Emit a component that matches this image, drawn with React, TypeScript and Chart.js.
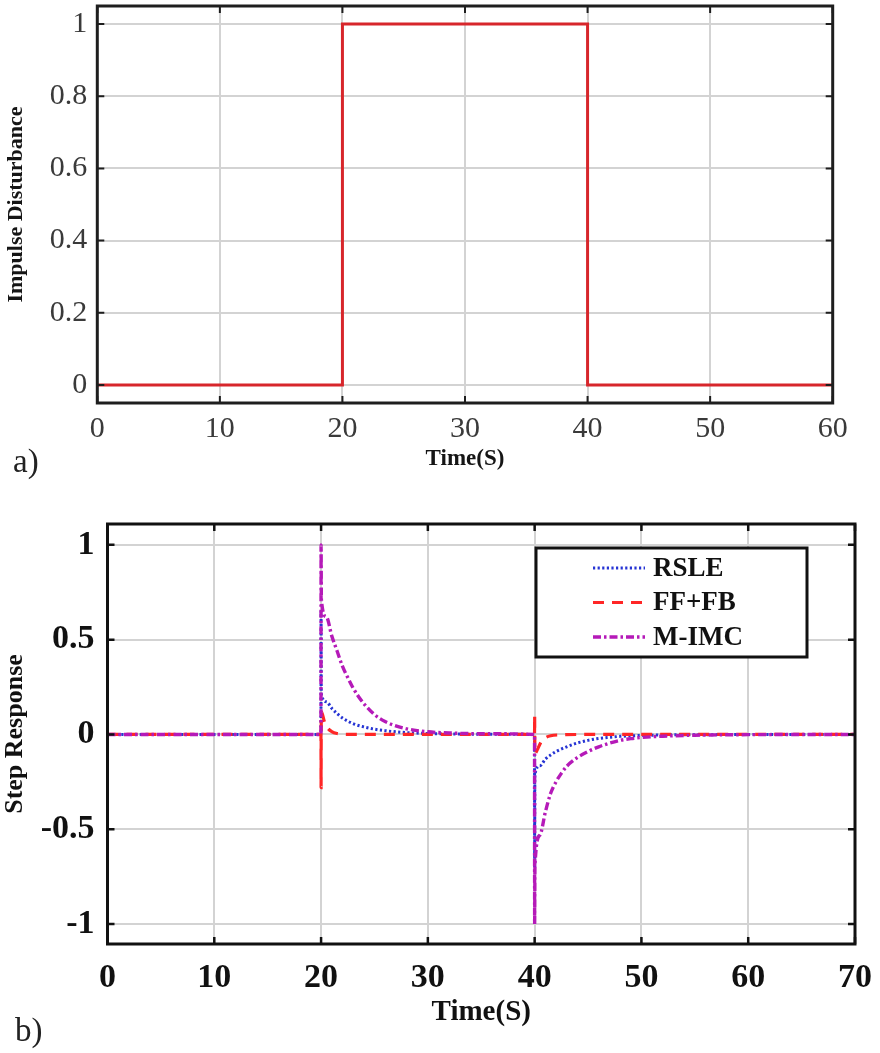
import React, { useEffect, useRef } from 'react';
import { Chart, registerables } from 'chart.js';

Chart.register(...registerables);

const SERIF = '"Liberation Serif", "Times New Roman", serif';

// ---------- (a) Impulse disturbance ----------
const TOP_TIME = [0, 20, 20, 40, 40, 60];
const TOP_DIST = [0, 0, 1, 1, 0, 0];
const TOP_X_TICKS = [0, 10, 20, 30, 40, 50, 60];
const TOP_X_LABELS = ['0', '10', '20', '30', '40', '50', '60'];
const TOP_Y_TICKS = [0, 0.2, 0.4, 0.6, 0.8, 1];
const TOP_Y_LABELS = ['0', '0.2', '0.4', '0.6', '0.8', '1'];

// ---------- (b) Step response ----------
const SERIES_NAMES = ['RSLE', 'FF+FB', 'M-IMC'];

const RSLE_T = [0, 19.99, 20, 20.02, 20.5, 21, 21.5, 22, 23, 24, 25, 26, 27, 28, 30, 33, 36, 39.99, 40, 40.02, 40.5, 41, 41.5, 42, 43, 44, 45, 46, 47, 48, 50, 53, 56, 70];
const RSLE_V = [0, 0, 0.65, 0.215, 0.172, 0.138, 0.11, 0.087, 0.057, 0.04, 0.028, 0.02, 0.014, 0.01, 0.005, 0.002, 0.001, 0, -0.7, -0.213, -0.165, -0.13, -0.108, -0.09, -0.065, -0.045, -0.031, -0.021, -0.015, -0.01, -0.005, -0.002, -0.001, 0];

const FF_T = [0, 19.99, 20, 20.02, 20.3, 20.6, 21, 21.5, 22.5, 39.99, 40, 40.02, 40.3, 40.6, 41, 41.5, 42.5, 44, 70];
const FF_V = [0, 0, -0.28, 0.12, 0.07, 0.035, 0.015, 0.005, 0, 0, 0.1, -0.1, -0.075, -0.04, -0.018, -0.007, -0.002, 0, 0];

const MIMC_T = [0, 19.99, 20, 20.03, 20.5, 21, 21.5, 22, 22.5, 23, 23.5, 24, 25, 26, 27, 28, 29, 30, 32, 35, 39.99, 40, 40.03, 40.5, 41, 41.5, 42, 42.5, 43, 44, 45, 46, 47, 48, 49, 50, 52, 55, 60, 70];
const MIMC_V = [0, 0, 1, 0.71, 0.62, 0.52, 0.44, 0.36, 0.3, 0.245, 0.2, 0.163, 0.105, 0.068, 0.045, 0.03, 0.02, 0.014, 0.008, 0.004, 0, -1, -0.69, -0.53, -0.41, -0.31, -0.25, -0.205, -0.168, -0.122, -0.09, -0.065, -0.046, -0.031, -0.022, -0.016, -0.009, -0.004, -0.001, 0];

const BOT_X_TICKS = [0, 10, 20, 30, 40, 50, 60, 70];
const BOT_X_LABELS = ['0', '10', '20', '30', '40', '50', '60', '70'];
const BOT_Y_TICKS = [-1, -0.5, 0, 0.5, 1];
const BOT_Y_LABELS = ['-1', '-0.5', '0', '0.5', '1'];

const toPoints = (t: number[], v: number[]) => t.map((x, i) => ({ x, y: v[i] }));

// MATLAB-like frame with inward tick marks
const matlabFrame = {
  id: 'matlabFrame',
  afterDatasetsDraw(chart: any, _args: any, opts: any) {
    const { ctx, chartArea: a, scales } = chart;
    ctx.save();
    ctx.strokeStyle = opts.color;
    ctx.lineWidth = opts.tickWidth;
    const L = opts.tickLength;
    ctx.beginPath();
    for (const t of scales.x.ticks) {
      const px = scales.x.getPixelForValue(t.value);
      ctx.moveTo(px, a.bottom);
      ctx.lineTo(px, a.bottom - L);
      ctx.moveTo(px, a.top);
      ctx.lineTo(px, a.top + L);
    }
    for (const t of scales.y.ticks) {
      const py = scales.y.getPixelForValue(t.value);
      ctx.moveTo(a.left, py);
      ctx.lineTo(a.left + L, py);
      ctx.moveTo(a.right, py);
      ctx.lineTo(a.right - L, py);
    }
    ctx.stroke();
    ctx.lineWidth = opts.width;
    ctx.strokeRect(a.left, a.top, a.right - a.left, a.bottom - a.top);
    ctx.restore();
  },
};

// Boxed legend inside the plot area
const boxLegend = {
  id: 'boxLegend',
  afterDraw(chart: any, _args: any, opts: any) {
    if (!opts || !opts.display) return;
    const { ctx, chartArea: a } = chart;
    const x0 = a.left + opts.left;
    const y0 = a.top + opts.top;
    ctx.save();
    ctx.fillStyle = '#ffffff';
    ctx.fillRect(x0, y0, opts.width, opts.height);
    ctx.strokeStyle = '#111';
    ctx.lineWidth = 3;
    ctx.strokeRect(x0, y0, opts.width, opts.height);
    const ds = chart.data.datasets;
    ds.forEach((d: any, i: number) => {
      const y = y0 + opts.firstRow + i * opts.rowGap;
      ctx.save();
      ctx.strokeStyle = d.borderColor;
      ctx.lineWidth = d.borderWidth;
      ctx.setLineDash(d.borderDash || []);
      ctx.beginPath();
      ctx.moveTo(x0 + opts.lineStart, y);
      ctx.lineTo(x0 + opts.lineEnd, y);
      ctx.stroke();
      ctx.restore();
      ctx.fillStyle = '#111';
      ctx.font = `bold ${opts.fontSize}px ${SERIF}`;
      ctx.textAlign = 'left';
      ctx.textBaseline = 'middle';
      ctx.fillText(d.label, x0 + opts.textStart, y + 1);
    });
    ctx.restore();
  },
};

function TopChart() {
  const ref = useRef<HTMLCanvasElement | null>(null);
  useEffect(() => {
    if (!ref.current) return;
    const chart = new Chart(ref.current, {
      type: 'line',
      data: {
        datasets: [
          {
            label: 'Impulse Disturbance',
            data: toPoints(TOP_TIME, TOP_DIST),
            borderColor: '#d7262b',
            borderWidth: 3,
            pointRadius: 0,
            tension: 0,
            fill: false,
          },
        ],
      },
      options: {
        responsive: false,
        animation: false,
        events: [],
        layout: { padding: { left: 3, top: 6, right: 47.3, bottom: 27.2 } },
        plugins: {
          legend: { display: false },
          tooltip: { enabled: false },
          matlabFrame: { color: '#1e1e1e', width: 3, tickWidth: 2, tickLength: 7 },
          boxLegend: { display: false },
        } as any,
        scales: {
          x: {
            type: 'linear',
            min: 0,
            max: 60,
            afterBuildTicks: (s: any) => {
              s.ticks = TOP_X_TICKS.map((v) => ({ value: v }));
            },
            afterFit: (s: any) => {
              s.height = 69.8;
              s.paddingLeft = 0;
              s.paddingRight = 0;
            },
            ticks: {
              autoSkip: false,
              maxRotation: 0,
              padding: 8,
              color: '#3a3a3a',
              font: { family: SERIF, size: 30 },
              callback: (_v: any, i: number) => TOP_X_LABELS[i],
            },
            grid: { color: '#d3d3d3', lineWidth: 2, drawTicks: false },
            border: { display: false },
            title: {
              display: true,
              text: 'Time(S)',
              color: '#151515',
              padding: 0,
              font: { family: SERIF, size: 23, weight: 'bold' },
            },
          },
          y: {
            type: 'linear',
            min: -0.05,
            max: 1.05,
            afterBuildTicks: (s: any) => {
              s.ticks = TOP_Y_TICKS.map((v) => ({ value: v }));
            },
            afterFit: (s: any) => {
              s.width = 94.3;
              s.paddingTop = 0;
              s.paddingBottom = 0;
            },
            ticks: {
              autoSkip: false,
              padding: 10,
              color: '#3a3a3a',
              font: { family: SERIF, size: 30 },
              callback: (_v: any, i: number) => TOP_Y_LABELS[i],
            },
            grid: { color: '#d3d3d3', lineWidth: 2, drawTicks: false },
            border: { display: false },
            title: {
              display: true,
              text: 'Impulse Disturbance',
              color: '#151515',
              padding: 0,
              font: { family: SERIF, size: 22, weight: 'bold' },
            },
          },
        },
      } as any,
      plugins: [matlabFrame, boxLegend],
    });
    return () => chart.destroy();
  }, []);
  return <canvas ref={ref} width={880} height={500} style={{ display: 'block' }} />;
}

function BottomChart() {
  const ref = useRef<HTMLCanvasElement | null>(null);
  useEffect(() => {
    if (!ref.current) return;
    const chart = new Chart(ref.current, {
      type: 'line',
      data: {
        datasets: [
          {
            label: SERIES_NAMES[0],
            data: toPoints(RSLE_T, RSLE_V),
            borderColor: '#2634d4',
            borderWidth: 3,
            borderDash: [2.2, 2.4],
            pointRadius: 0,
            cubicInterpolationMode: 'monotone',
            fill: false,
            order: 2,
          },
          {
            label: SERIES_NAMES[1],
            data: toPoints(FF_T, FF_V),
            borderColor: '#ff2626',
            borderWidth: 3.2,
            borderDash: [11, 8],
            pointRadius: 0,
            cubicInterpolationMode: 'monotone',
            fill: false,
            order: 1,
          },
          {
            label: SERIES_NAMES[2],
            data: toPoints(MIMC_T, MIMC_V),
            borderColor: '#b51ab8',
            borderWidth: 3.4,
            borderDash: [8, 3, 2.5, 3],
            pointRadius: 0,
            cubicInterpolationMode: 'monotone',
            fill: false,
            order: 0,
          },
        ],
      },
      options: {
        responsive: false,
        animation: false,
        events: [],
        layout: { padding: { left: 0, top: 24, right: 25, bottom: 22.6 } },
        plugins: {
          legend: { display: false },
          tooltip: { enabled: false },
          matlabFrame: { color: '#111', width: 3, tickWidth: 2.5, tickLength: 7 },
          boxLegend: {
            display: true,
            left: 428.5,
            top: 24,
            width: 271,
            height: 109,
            firstRow: 20,
            rowGap: 34.5,
            lineStart: 57,
            lineEnd: 109,
            textStart: 117,
            fontSize: 27,
          },
        } as any,
        scales: {
          x: {
            type: 'linear',
            min: 0,
            max: 70,
            afterBuildTicks: (s: any) => {
              s.ticks = BOT_X_TICKS.map((v) => ({ value: v }));
            },
            afterFit: (s: any) => {
              s.height = 86.4;
              s.paddingLeft = 0;
              s.paddingRight = 0;
            },
            ticks: {
              autoSkip: false,
              maxRotation: 0,
              padding: 14,
              color: '#111',
              font: { family: SERIF, size: 34, weight: 'bold' },
              callback: (_v: any, i: number) => BOT_X_LABELS[i],
            },
            grid: { color: '#d3d3d3', lineWidth: 2, drawTicks: false },
            border: { display: false },
            title: {
              display: true,
              text: 'Time(S)',
              color: '#111',
              padding: 0,
              font: { family: SERIF, size: 29, weight: 'bold' },
            },
          },
          y: {
            type: 'linear',
            min: -1.105,
            max: 1.11,
            afterBuildTicks: (s: any) => {
              s.ticks = BOT_Y_TICKS.map((v) => ({ value: v }));
            },
            afterFit: (s: any) => {
              s.width = 107.5;
              s.paddingTop = 0;
              s.paddingBottom = 0;
            },
            ticks: {
              autoSkip: false,
              padding: 13,
              color: '#111',
              font: { family: SERIF, size: 34, weight: 'bold' },
              callback: (_v: any, i: number) => BOT_Y_LABELS[i],
            },
            grid: { color: '#d3d3d3', lineWidth: 2, drawTicks: false },
            border: { display: false },
            title: {
              display: true,
              text: 'Step Response',
              color: '#111',
              padding: 0,
              font: { family: SERIF, size: 26, weight: 'bold' },
            },
          },
        },
      } as any,
      plugins: [matlabFrame, boxLegend],
    });
    return () => chart.destroy();
  }, []);
  return <canvas ref={ref} width={880} height={553} style={{ display: 'block' }} />;
}

const panelLabel: React.CSSProperties = {
  position: 'absolute',
  fontFamily: SERIF,
  fontSize: 33,
  lineHeight: '33px',
  color: '#222',
};

export default function App() {
  return (
    <div style={{ position: 'absolute', left: 0, top: 0, width: 880, height: 1053, background: '#fff', overflow: 'hidden' }}>
      <div style={{ position: 'absolute', left: 0, top: 0 }}>
        <TopChart />
      </div>
      <div style={{ position: 'absolute', left: 0, top: 500 }}>
        <BottomChart />
      </div>
      <div style={{ ...panelLabel, left: 13, top: 445 }}>a)</div>
      <div style={{ ...panelLabel, left: 15, top: 1014 }}>b)</div>
    </div>
  );
}
